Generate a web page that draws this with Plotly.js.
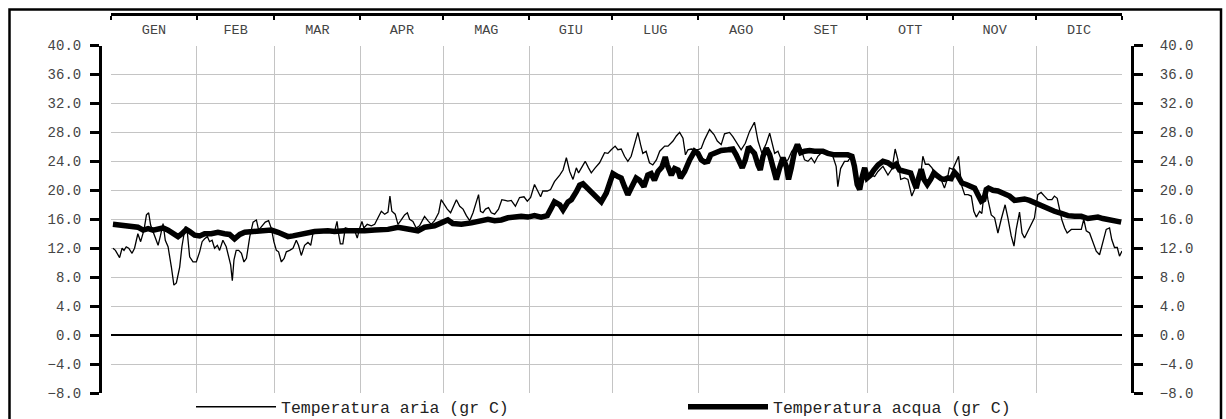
<!DOCTYPE html>
<html>
<head>
<meta charset="utf-8">
<script src="https://cdn.plot.ly/plotly-3.0.1.min.js"></script>
<style>html,body{margin:0;padding:0;background:#fff;}#chart{width:1226px;height:419px;}</style>
</head>
<body>
<div id="chart"></div>
<script>
// Month boundaries (day of year) and labels
const monthStarts = [0,31,59,90,120,151,181,212,243,273,304,334,365];
const monthNames = ['GEN','FEB','MAR','APR','MAG','GIU','LUG','AGO','SET','OTT','NOV','DIC'];

// Air temperature (thin line): day of year, value
const airDay = [0.7,1.6,3.1,4.0,4.7,5.5,6.4,7.6,8.5,9.7,10.7,11.9,12.8,13.6,14.3,15.8,17.0,17.9,18.8,19.6,20.6,21.8,22.7,23.6,24.8,25.6,26.8,27.6,28.4,29.6,30.8,32.0,32.9,33.8,34.8,35.6,36.5,37.4,38.4,39.2,40.4,41.6,42.5,43.2,43.8,44.4,45.2,46.1,47.1,48.0,48.9,50.1,51.3,52.5,53.3,54.5,55.7,56.9,57.9,58.8,59.7,60.5,61.5,62.5,63.3,64.5,65.7,66.9,67.7,68.7,69.9,71.1,72.1,72.9,
74.7,77.1,79.5,80.7,81.6,82.2,82.8,83.7,84.6,85.5,86.7,87.9,88.9,89.8,90.6,91.3,92.5,94.0,95.2,96.4,97.6,98.8,100.0,100.7,101.4,102.6,103.6,104.6,106.0,107.0,107.8,109.0,110.2,111.4,113.2,114.4,115.6,116.8,118.3,119.2,120.4,121.4,122.6,123.8,124.7,125.9,127.1,128.3,129.5,130.7,131.9,132.7,133.4,134.3,135.2,136.3,137.3,138.5,139.9,141.1,142.3,
143.3,144.5,146.0,147.5,149.1,150.3,151.5,152.9,153.9,155.1,155.9,157.5,158.7,160.1,162.0,163.2,164.4,165.6,166.8,168.0,168.8,169.8,171.2,172.4,173.4,174.8,176.4,178.2,179.4,180.6,182.0,183.0,184.2,185.4,186.6,187.8,189.0,190.2,191.2,192.0,193.2,194.4,195.6,196.9,198.1,199.9,201.1,202.9,204.1,205.3,206.5,207.4,208.3,209.5,210.7,211.9,213.1,214.3,216.1,
217.7,218.9,220.3,221.5,223.3,224.5,226.1,227.5,229.0,230.5,232.3,233.6,235.0,236.6,237.8,238.6,239.6,240.8,241.7,242.9,244.4,245.8,247.0,248.6,250.4,251.6,252.8,254.0,255.2,257.0,258.8,260.6,261.8,262.4,263.4,264.8,266.0,267.2,268.4,269.7,270.6,272.1,273.3,274.5,275.7,276.9,278.7,280.5,282.0,283.1,284.1,285.1,286.5,
287.7,289.1,290.1,291.3,292.3,293.1,294.0,295.2,296.4,297.3,298.5,299.7,300.9,301.9,302.7,303.9,305.1,306.0,307.0,308.2,309.4,310.6,311.5,312.4,313.6,314.4,315.1,316.0,316.6,317.8,319.0,320.2,321.4,322.8,323.8,325.0,326.0,326.8,328.0,328.9,329.8,331.0,332.5,333.4,334.6,335.8,337.0,338.2,339.7,340.6,341.6,342.5,343.3,344.3,345.2,346.7,348.5,350.3,351.2,352.1,353.3,354.5,355.7,356.9,358.1,359.3,360.5,361.3,362.3,363.3,364.1,365.0];
const airTemp = [12.0,11.7,10.7,12.0,11.7,12.2,12.0,11.3,12.0,14.0,12.9,14.5,16.6,16.9,15.2,13.6,12.4,13.8,15.4,13.1,12.2,9.4,6.9,7.2,9.4,12.2,15.0,14.0,10.8,10.1,10.1,11.5,12.9,13.3,13.6,12.9,13.1,12.0,12.4,11.7,13.1,12.2,10.8,9.7,7.5,10.4,11.7,11.7,11.3,10.1,10.6,13.6,15.6,15.9,14.5,15.0,15.6,15.8,14.7,12.9,11.7,11.5,10.1,10.6,11.5,11.7,12.0,13.1,12.4,11.0,12.4,12.8,12.4,14.0,
14.3,14.3,14.4,14.3,15.7,13.9,12.6,12.6,14.8,14.7,14.3,14.5,13.4,14.8,15.7,14.8,15.3,15.1,15.3,16.2,17.1,16.7,17.0,19.2,17.1,16.7,15.3,15.8,16.6,16.9,16.0,15.7,14.8,15.1,16.4,15.8,15.3,15.8,16.9,18.7,18.0,17.4,16.9,18.0,18.7,17.8,17.4,16.5,15.8,16.9,18.3,19.4,17.1,16.9,17.4,17.6,16.9,16.7,17.4,18.7,18.6,
18.5,18.6,17.8,19.0,19.1,18.5,19.0,20.8,20.1,19.1,19.9,19.9,20.1,21.2,22.1,22.8,24.5,22.6,21.5,23.1,22.4,23.1,24.0,23.1,22.4,23.1,23.8,25.2,25.1,25.6,26.1,25.6,25.7,24.7,24.0,24.7,26.5,28.0,26.3,25.1,25.4,23.8,23.5,24.2,25.4,26.1,26.1,26.8,27.5,28.0,27.2,24.9,25.6,25.7,25.6,25.6,25.8,27.0,28.4,
27.7,26.8,26.3,27.8,28.0,27.4,26.5,25.6,26.5,28.1,29.4,26.8,25.1,26.5,27.9,26.5,25.1,25.4,24.5,23.8,24.2,25.4,25.8,26.3,24.2,24.0,24.5,23.8,24.7,25.4,25.2,24.7,23.3,20.5,23.0,24.0,24.0,24.7,24.2,20.1,20.5,21.7,21.7,22.1,21.9,22.6,23.3,22.1,23.0,25.7,24.2,21.5,21.7,
21.5,19.2,20.1,21.5,22.0,24.7,23.6,23.6,23.1,22.4,22.2,21.5,20.3,21.5,23.1,22.9,23.8,24.7,20.8,19.4,19.4,19.2,17.1,16.3,17.1,16.8,19.2,20.3,18.7,16.6,16.2,14.1,16.0,18.0,16.2,13.7,12.3,14.6,17.0,14.1,13.4,14.3,15.5,16.2,19.4,19.7,19.2,18.7,18.7,19.2,18.9,17.3,15.9,14.8,14.1,14.6,14.6,14.6,16.0,14.4,14.1,12.8,11.6,11.1,12.7,14.6,14.8,13.2,12.1,12.1,10.9,11.6];

// Water temperature (thick line): day of year, value
const waterDay = [0.7,3.7,7.3,9.7,11.6,13.4,15.2,17.0,18.8,20.6,22.4,24.2,25.6,27.2,28.4,30.2,32.0,33.8,36.2,38.6,41.0,42.8,44.6,46.5,48.3,50.7,53.1,55.5,57.9,60.3,62.1,63.9,65.7,68.1,70.5,
73.5,78.3,80.7,84.3,89.2,91.6,95.2,100.0,103.6,107.2,110.8,113.2,116.8,119.2,121.6,123.4,126.5,130.1,133.1,136.1,138.5,140.9,
143.3,145.7,148.1,150.5,152.9,155.3,157.5,158.9,160.1,162.0,163.2,165.0,166.2,168.0,169.2,170.4,172.2,174.6,177.0,178.8,180.0,181.2,183.0,184.2,185.4,186.6,187.8,189.6,190.8,192.4,193.8,195.0,196.2,197.5,198.9,200.1,200.8,202.3,203.5,204.7,205.6,207.1,208.9,210.7,211.9,213.1,214.3,
215.5,216.5,217.9,220.3,222.7,224.5,225.7,226.9,227.9,229.0,230.2,231.1,232.3,233.6,234.4,235.4,236.6,237.8,239.0,240.2,241.4,242.6,243.8,244.6,245.6,246.8,247.8,249.0,250.4,252.2,254.0,255.8,257.0,258.8,261.2,263.6,266.0,267.5,268.4,269.4,270.3,271.1,272.1,273.0,274.2,275.4,276.9,278.7,280.5,282.3,283.5,284.7,286.5,
287.7,288.7,289.5,290.7,291.6,292.5,293.5,294.7,295.9,297.1,298.3,299.7,300.9,302.1,303.3,304.5,305.7,307.2,308.8,310.6,311.8,313.0,314.2,315.1,316.0,316.8,318.4,320.2,322.6,324.4,326.2,328.0,329.8,331.6,333.4,335.8,338.2,340.6,343.1,345.5,347.9,350.3,352.7,354.5,356.3,358.1,359.9,362.3,364.7];
const waterTemp = [15.3,15.2,15.0,14.9,14.5,14.7,14.5,14.7,14.8,14.5,14.0,13.6,14.0,14.6,14.3,13.8,13.7,14.0,14.0,14.2,14.0,13.9,13.3,13.9,14.2,14.3,14.3,14.4,14.5,14.2,13.9,13.6,13.7,13.9,14.0,
14.3,14.4,14.3,14.4,14.3,14.4,14.5,14.6,14.9,14.7,14.4,14.9,15.1,15.5,15.9,15.4,15.3,15.5,15.7,16.0,15.8,15.9,
16.2,16.3,16.4,16.3,16.5,16.3,16.5,17.5,18.4,18.0,17.3,18.4,18.7,19.8,20.7,20.9,20.2,19.3,18.4,19.6,21.2,22.3,21.9,21.7,20.5,19.4,20.3,21.7,21.4,20.5,22.1,22.3,21.4,22.6,23.2,24.6,23.5,22.1,23.0,22.8,21.7,22.6,24.2,25.4,25.1,24.2,23.9,
24.0,24.9,25.2,25.5,25.6,25.7,24.9,23.8,23.1,24.2,26.0,25.6,25.1,23.5,22.8,24.7,25.8,24.9,23.1,21.5,23.1,24.5,23.3,21.5,23.1,25.4,26.3,25.2,25.4,25.5,25.4,25.3,25.4,25.1,24.9,24.9,24.9,24.7,23.3,20.8,20.1,21.7,23.1,21.7,22.1,22.8,23.5,24.0,23.8,23.3,23.6,22.8,22.6,
22.6,22.4,21.5,20.3,21.7,22.9,21.5,20.8,21.5,22.4,22.0,21.6,21.5,21.7,21.6,22.5,22.0,21.0,20.8,20.6,20.3,19.4,18.5,18.7,20.1,20.3,20.0,19.9,19.4,19.2,18.6,18.7,18.8,18.6,18.3,17.7,17.4,17.1,16.8,16.5,16.4,16.4,16.1,16.2,16.3,16.1,16.0,15.9,15.6];

const seriesNames = ['Temperatura aria (gr C)', 'Temperatura acqua (gr C)'];

const monthMids = monthNames.map((m, i) => (monthStarts[i] + monthStarts[i + 1]) / 2);

const FONT = 'Liberation Mono, Courier New, monospace';
const W = 1226, H = 419;
const ML = 100, MR = 94, MT = 14, MB = 26;
const PW = W - ML - MR, PH = H - MT - MB;
const PLOT_TOP = 45.5; // pixel row of the 40.0 gridline

const traces = [
  {x: airDay, y: airTemp, name: seriesNames[0], type: 'scatter', mode: 'lines',
   line: {color: '#000', width: 1.3}, xaxis: 'x', yaxis: 'y'},
  {x: waterDay, y: waterTemp, name: seriesNames[1], type: 'scatter', mode: 'lines',
   line: {color: '#000', width: 5.5}, xaxis: 'x', yaxis: 'y2'},
  // invisible companion so the top month axis (x2) gets drawn
  {x: waterDay, y: waterTemp, type: 'scatter', mode: 'lines', opacity: 0, showlegend: false,
   hoverinfo: 'skip', line: {width: 0}, xaxis: 'x2', yaxis: 'y'}
];

const yCommon = {
  range: [-8, 40], tick0: 0, dtick: 4, tickformat: '.1f',
  showline: true, linecolor: '#000', linewidth: 3,
  ticks: 'outside', ticklen: 9, tickwidth: 3, tickcolor: '#000',
  tickfont: {family: FONT, size: 14, color: '#444'},
  domain: [0, (H - MB - PLOT_TOP) / PH],
  anchor: 'free', fixedrange: true
};

const xDomain = [(111 - ML) / PW, (1122 - ML) / PW];

const layout = {
  width: W, height: H,
  margin: {l: ML, r: MR, t: MT, b: MB, pad: 0, autoexpand: false},
  paper_bgcolor: '#fff', plot_bgcolor: '#fff',
  showlegend: true,
  font: {family: FONT, color: '#222'},
  xaxis: {
    domain: xDomain, range: [0, 365], tickmode: 'array', tickvals: monthStarts,
    showticklabels: false, ticks: '', showgrid: true, gridcolor: '#c4c4c4', gridwidth: 1,
    zeroline: false, showline: false, fixedrange: true, anchor: 'y'
  },
  xaxis2: {
    domain: xDomain, range: [0, 365], overlaying: 'x', anchor: 'free', position: 1, side: 'bottom',
    tickmode: 'array', tickvals: monthMids, ticktext: monthNames, ticks: '',
    tickfont: {family: FONT, size: 13.5, color: '#444'},
    showline: true, linecolor: '#000', linewidth: 2.5, showgrid: false, zeroline: false,
    minor: {tickmode: 'array', tickvals: monthStarts, ticks: 'outside', ticklen: 4, tickwidth: 2, tickcolor: '#000', showgrid: false},
    ticklabelstandoff: 2, fixedrange: true
  },
  yaxis: Object.assign({}, yCommon, {
    position: 0, side: 'left', showgrid: true, gridcolor: '#c4c4c4', gridwidth: 1,
    zeroline: true, zerolinecolor: '#000', zerolinewidth: 2, ticklabelstandoff: 6
  }),
  yaxis2: Object.assign({}, yCommon, {
    position: 1, side: 'right', overlaying: 'y', showgrid: false, zeroline: false, ticklabelstandoff: 14
  }),
  legend: {
    orientation: 'h', xref: 'container', yref: 'container',
    x: 191 / W, xanchor: 'left', y: 1 - 407 / H, yanchor: 'middle',
    font: {family: FONT, size: 16.5, color: '#222'}, bgcolor: 'rgba(0,0,0,0)',
    itemwidth: 80, entrywidth: 397, traceorder: 'normal'
  },
  shapes: [{
    type: 'rect', xref: 'paper', yref: 'paper',
    x0: (9.5 - ML) / PW, x1: (1221 - ML) / PW, y0: -0.3, y1: 1 + (MT - 9.5) / PH,
    line: {color: '#000', width: 2.5}, fillcolor: 'rgba(0,0,0,0)', layer: 'above'
  }]
};

Plotly.newPlot('chart', traces, layout, {displayModeBar: false, staticPlot: true});
</script>
</body>
</html>
